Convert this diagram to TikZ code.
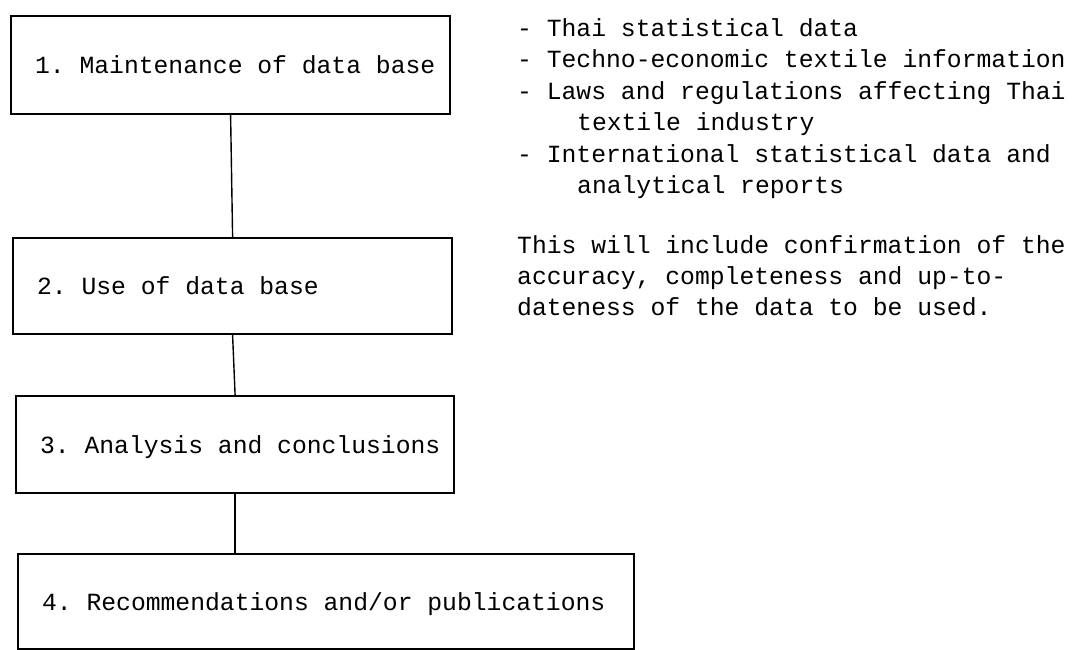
\documentclass[tikz,border=0pt]{standalone}
\usepackage{fontspec}
\setmainfont{Liberation Mono}
\begin{document}
\begin{tikzpicture}[x=1pt,y=-1pt,
    box/.style={draw, line width=2.2pt, anchor=north west, inner xsep=0pt,
      inner ysep=0pt, align=left, text height=17pt, text depth=0pt,
      font=\fontsize{24.7}{31}\selectfont,
      execute at begin node={\frenchspacing\spaceskip=0pt\xspaceskip=0pt\hspace*{24pt}}},
    link/.style={line width=1.4pt},
    note/.style={anchor=base west, inner sep=0pt,
      font=\fontsize{24.7}{31}\selectfont\frenchspacing}]

  \useasboundingbox (0,0) rectangle (1079,649);

  \begin{scope}   % the four steps

    \def\Ax{10};  \def\Ay{15};
    \def\Bx{12};  \def\By{237};
    \def\Cx{15};  \def\Cy{395};
    \def\Dx{17};  \def\Dy{553};

    \node[box, text width=439, minimum height=98] (step1) at (\Ax,\Ay)
         {1. Maintenance of data base};
    \node[box, text width=439, minimum height=96] (step2) at (\Bx,\By)
         {2. Use of data base};
    \node[box, text width=438, minimum height=97] (step3) at (\Cx,\Cy)
         {3. Analysis and conclusions};
    \node[box, text width=616, minimum height=95] (step4) at (\Dx,\Dy)
         {4. Recommendations and/or publications};

    \draw[link] (step1.south) -- (step2.north);
    \draw[link] (step2.south) -- (step3.north);
    \draw[link] (step3.south) -- (step3.south |- step4.north);

  \end{scope}

  \begin{scope}   % notes on the right

    \foreach \xx/\yy/\txt [count=\i] in
      {517/36/{- Thai statistical data},
       517/67.5/{- Techno-economic textile information},
       517/99/{- Laws and regulations affecting Thai},
       577/130.5/{textile industry},
       517/162/{- International statistical data and},
       577/193/{analytical reports}}
    {
      \node[note] (item\i) at (\xx,\yy) {\txt};
    }

    \foreach \xx/\yy/\txt [count=\i] in
      {517/253/{This will include confirmation of the},
       {517/284/accuracy, completeness and up-to-},
       517/315/{dateness of the data to be used.}}
    {
      \node[note] (para\i) at (\xx,\yy) {\txt};
    }

  \end{scope}

\end{tikzpicture}
\end{document}
